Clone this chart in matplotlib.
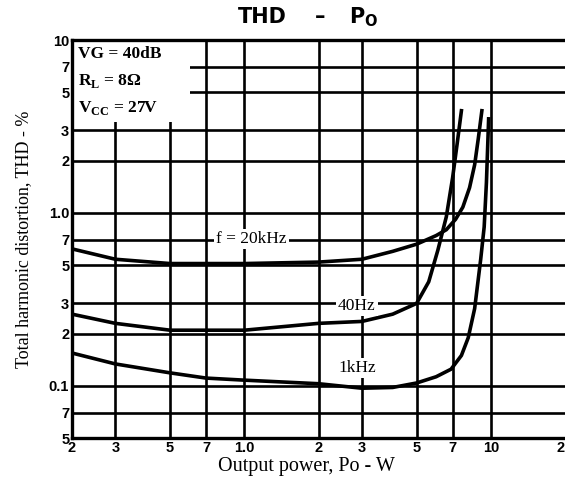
'''
THD vs output power chart (datasheet style, log-log)
'''
import matplotlib
matplotlib.use('Agg')
import matplotlib.pyplot as plt
from matplotlib.patches import Rectangle

# data
p_20k = [0.2, 0.3, 0.5, 1.0, 2.0, 3.0, 4.0, 5.0, 6.0, 6.6, 7.2, 7.7, 8.2, 8.6, 8.9, 9.2]
thd_20k = [0.62, 0.54, 0.51, 0.51, 0.52, 0.54, 0.60, 0.66, 0.74, 0.80, 0.92, 1.08, 1.4, 1.9, 2.7, 3.9]

p_40 = [0.2, 0.3, 0.5, 1.0, 2.0, 3.0, 4.0, 5.0, 5.6, 6.1, 6.6, 7.0, 7.3, 7.6]
thd_40 = [0.26, 0.23, 0.21, 0.21, 0.23, 0.236, 0.26, 0.30, 0.40, 0.61, 0.95, 1.6, 2.5, 3.9]

p_1k = [0.2, 0.3, 0.5, 0.7, 1.0, 2.0, 3.0, 4.0, 5.0, 6.0, 6.9, 7.6, 8.1, 8.6, 9.1, 9.4, 9.6, 9.8]
thd_1k = [0.155, 0.134, 0.119, 0.111, 0.108, 0.103, 0.097, 0.098, 0.104, 0.113, 0.125,
          0.15, 0.19, 0.28, 0.54, 0.83, 1.5, 3.5]

x_ticks = [0.2, 0.3, 0.5, 0.7, 1, 2, 3, 5, 7, 10, 20]
x_labels = ['2', '3', '5', '7', '1.0', '2', '3', '5', '7', '10', '2']
y_ticks = [0.05, 0.07, 0.1, 0.2, 0.3, 0.5, 0.7, 1, 2, 3, 5, 7, 10]
y_labels = ['5', '7', '0.1', '2', '3', '5', '7', '1.0', '2', '3', '5', '7', '10']

conditions = ['VG = 40dB', r'R$_\mathregular{L}$ = 8Ω', r'V$_\mathregular{CC}$ = 27V']

serif = 'Liberation Serif'
sans = 'Liberation Sans'

fig = plt.figure(figsize=(5.65, 4.84), dpi=100)
ax = fig.add_axes([72 / 565, 46 / 484, 493 / 565, 398 / 484])
ax.set_xscale('log')
ax.set_yscale('log')
ax.set_xlim(0.2, 20)
ax.set_ylim(0.05, 10)

# thick black grid like the printed sheet
for xv in x_ticks[1:-1]:
    ax.axvline(xv, color='black', lw=1.9, zorder=1)
for yv in y_ticks[1:-1]:
    ax.axhline(yv, color='black', lw=1.9, zorder=1)

ax.set_xticks(x_ticks)
ax.set_xticklabels(x_labels)
ax.set_yticks(y_ticks)
ax.set_yticklabels(y_labels)
ax.minorticks_off()
ax.tick_params(length=0, pad=2)
for lbl in ax.get_xticklabels() + ax.get_yticklabels():
    lbl.set_fontfamily(sans)
    lbl.set_fontweight('bold')
    lbl.set_fontsize(10.5)
ax.get_xticklabels()[-1].set_horizontalalignment('right')

for side in ['left', 'bottom', 'top']:
    ax.spines[side].set_linewidth(2.4)
ax.spines['right'].set_visible(False)

# curves
ax.plot(p_20k, thd_20k, color='black', lw=2.6, zorder=3)
ax.plot(p_40, thd_40, color='black', lw=2.6, zorder=3)
ax.plot(p_1k, thd_1k, color='black', lw=2.6, zorder=3)

# curve labels
box = dict(facecolor='white', edgecolor='none', pad=1.5)
ax.text(1.07, 0.71, 'f = 20kHz', family=serif, fontsize=12.5, ha='center', va='center',
        bbox=box, zorder=4)
ax.text(2.86, 0.29, '40Hz', family=serif, fontsize=12.5, ha='center', va='center',
        bbox=box, zorder=4)
ax.text(2.86, 0.127, '1kHz', family=serif, fontsize=12.5, ha='center', va='center',
        bbox=box, zorder=4)

# conditions box in the corner
ax.add_patch(Rectangle((0.005, 0.794), 0.235, 0.201, transform=ax.transAxes,
                       facecolor='white', edgecolor='none', zorder=2))
for i, txt in enumerate(conditions):
    ax.text(0.012, 0.965 - i * 0.068, txt, transform=ax.transAxes, family=serif,
            fontsize=12.5, fontweight='bold', ha='left', va='center', zorder=4)

# title, spaced like the printed one
fig.text(262 / 565, 1 - 17 / 484, 'THD', family='DejaVu Sans', fontsize=15,
         fontweight='bold', ha='center', va='center')
fig.text(320 / 565, 1 - 17 / 484, '–', family='DejaVu Sans', fontsize=15,
         fontweight='bold', ha='center', va='center')
fig.text(364 / 565, 1 - 17 / 484, r'P$_\mathregular{O}$', family='DejaVu Sans', fontsize=15,
         fontweight='bold', ha='center', va='center')

ax.set_xlabel('Output power, Po - W', family=serif, fontsize=14.5)
ax.xaxis.set_label_coords(234 / 493, -19 / 398)
ax.set_ylabel('Total harmonic distortion, THD - %', family=serif, fontsize=13)
ax.yaxis.set_label_coords(-40 / 493, 0.5)

fig.savefig('out.png', dpi=100)
